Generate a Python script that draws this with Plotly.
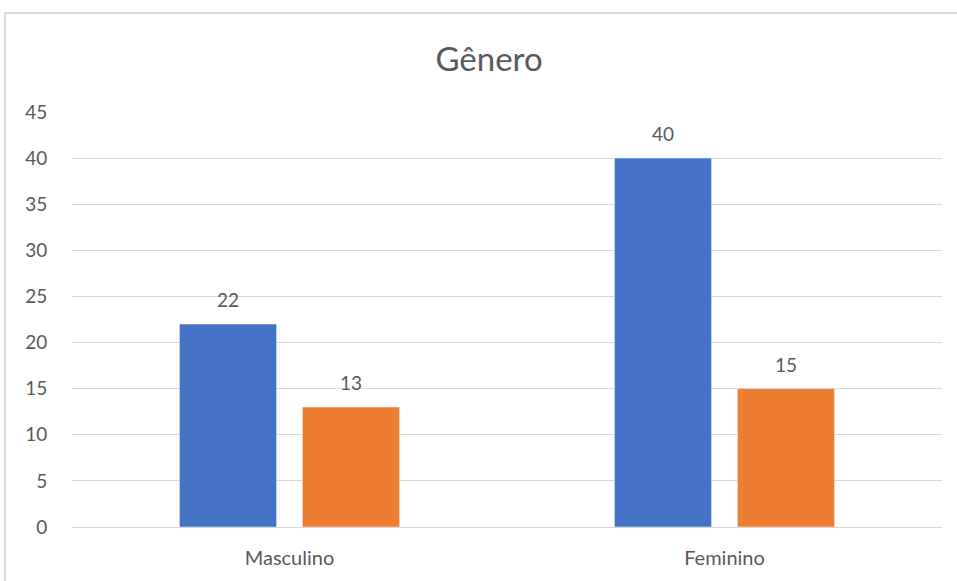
import plotly.graph_objects as go

# Chart data
categories = ["Masculino", "Feminino"]
series_a = [22, 40]
series_b = [13, 15]
y_ticks = [0, 5, 10, 15, 20, 25, 30, 35, 40, 45]

BLUE = "#4472C4"
ORANGE = "#ED7D31"
TEXT = "#595959"
GRID = "#D9D9D9"
FONT = "Lato, 'Open Sans', sans-serif"

fig = go.Figure()
fig.add_trace(go.Bar(x=categories, y=series_a, marker_color=BLUE, name="A"))
fig.add_trace(go.Bar(x=categories, y=series_b, marker_color=ORANGE, name="B"))

# Value labels above each bar
annotations = []
for vals, shift in ((series_a, -61.5), (series_b, 61.5)):
    for cat, v in zip(categories, vals):
        annotations.append(dict(
            x=cat, y=v, xref="x", yref="y", text=str(v), showarrow=False,
            xshift=shift, yshift=11, yanchor="bottom",
            font=dict(family=FONT, size=19, color=TEXT),
        ))

frame_x = (5 - 72) / 870
frame_y = (527 - 13) / 415

fig.update_layout(
    width=957, height=581,
    margin=dict(l=72, r=15, t=112, b=54, pad=0),
    paper_bgcolor="white", plot_bgcolor="white",
    showlegend=False,
    barmode="group", bargap=0.4345, bargroupgap=0.211,
    title=dict(text="Gênero", x=489 / 957, xanchor="center", y=1 - 59 / 581, yanchor="middle",
               font=dict(family=FONT, size=33, color=TEXT)),
    font=dict(family=FONT, size=19, color=TEXT),
    annotations=annotations,
    shapes=[
        # chart-area frame (left and top edges)
        dict(type="line", xref="paper", yref="paper",
             x0=frame_x, x1=1.5, y0=frame_y, y1=frame_y,
             line=dict(color=GRID, width=2)),
        dict(type="line", xref="paper", yref="paper",
             x0=frame_x, x1=frame_x, y0=-0.5, y1=frame_y,
             line=dict(color=GRID, width=2)),
    ],
)
fig.update_yaxes(range=[0, 45], tickvals=y_ticks, showgrid=True, gridcolor=GRID, gridwidth=1,
                 zeroline=False, showline=False, ticks="outside", ticklen=20,
                 tickcolor="rgba(0,0,0,0)", tickfont=dict(size=19, color=TEXT))
fig.update_xaxes(showgrid=False, zeroline=False, showline=True, linecolor=GRID, linewidth=1,
                 ticks="outside", ticklen=13, tickcolor="rgba(0,0,0,0)",
                 tickfont=dict(size=20, color=TEXT))

fig.write_html("out.html")
